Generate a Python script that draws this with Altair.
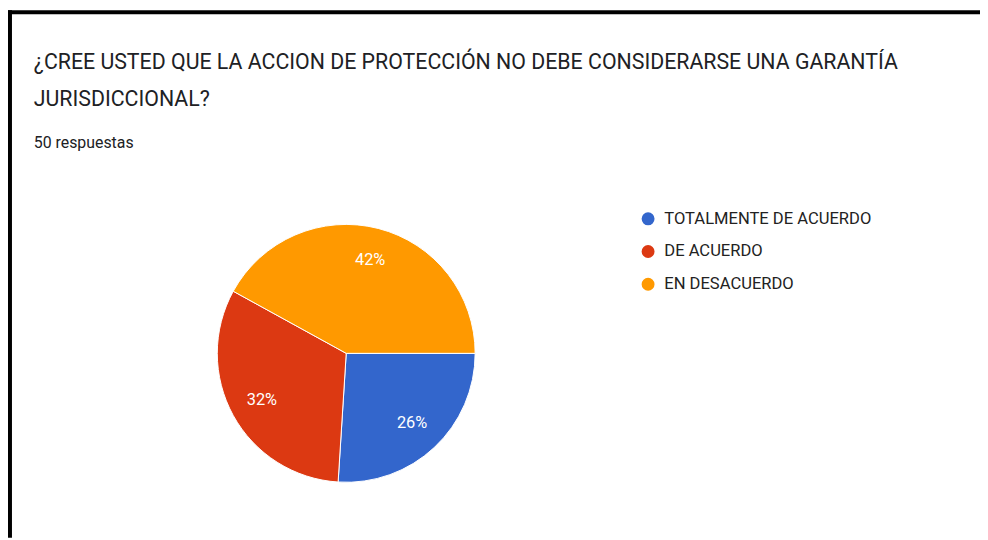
import altair as alt
import pandas as pd

# ---- data ----
categories = ["TOTALMENTE DE ACUERDO", "DE ACUERDO", "EN DESACUERDO"]
counts = [13, 16, 21]
pct_labels = ["26%", "32%", "42%"]
colors = ["#3366CC", "#DC3912", "#FF9900"]
title_lines = ["¿CREE USTED QUE LA ACCION DE PROTECCIÓN NO DEBE CONSIDERARSE UNA GARANTÍA",
               "JURISDICCIONAL?"]
subtitle = "50 respuestas"

df = pd.DataFrame({"cat": categories, "n": counts, "lbl": pct_labels,
                   "ord": list(range(len(categories)))})

W, H = 980, 532
CX, CY, R = 341, 346, 130

theta = alt.Theta("n:Q", stack=True,
                  scale=alt.Scale(range=[3.14159265 / 2, 3.14159265 / 2 + 2 * 3.14159265]))
color = alt.Color("cat:N", sort=categories,
                  scale=alt.Scale(domain=categories, range=colors),
                  legend=alt.Legend(title=None, orient="none", legendX=637, legendY=202,
                                    symbolType="circle", symbolSize=170, symbolStrokeWidth=0,
                                    labelFontSize=16.7, labelFont="Roboto", labelColor="#222222",
                                    labelOffset=8, rowPadding=15, labelLimit=400))

base = alt.Chart(df)

pie = base.mark_arc(outerRadius=R, stroke="white", strokeWidth=1).encode(
    theta=theta, color=color, order=alt.Order("ord:Q"),
    x=alt.value(CX), y=alt.value(CY))

labels = base.mark_text(radius=97, color="white", fontSize=16.5, font="Roboto").encode(
    theta=theta, text="lbl:N", order=alt.Order("ord:Q"),
    x=alt.value(CX), y=alt.value(CY))

one = pd.DataFrame({"a": [0]})

t1 = alt.Chart(pd.DataFrame({"t": [title_lines[0]]})).mark_text(
    align="left", baseline="alphabetic", fontSize=21.5, font="Roboto", color="#202124").encode(
    text="t:N", x=alt.value(26), y=alt.value(59))
t2 = alt.Chart(pd.DataFrame({"t": [title_lines[1]]})).mark_text(
    align="left", baseline="alphabetic", fontSize=21.5, font="Roboto", color="#202124").encode(
    text="t:N", x=alt.value(26), y=alt.value(97))
st = alt.Chart(pd.DataFrame({"t": [subtitle]})).mark_text(
    align="left", baseline="alphabetic", fontSize=16, font="Roboto", color="#202124").encode(
    text="t:N", x=alt.value(26), y=alt.value(139))

top_border = alt.Chart(one).mark_rule(color="black", strokeWidth=4).encode(
    x=alt.value(0), x2=alt.value(W), y=alt.value(2))
left_border = alt.Chart(one).mark_rule(color="black", strokeWidth=4).encode(
    x=alt.value(2), y=alt.value(0), y2=alt.value(H))

chart = alt.layer(pie, labels, t1, t2, st, top_border, left_border).properties(
    width=W, height=H, padding=0, autosize=alt.AutoSizeParams(type="none"),
    background="white"
).configure_view(stroke=None)

chart.save("out.html", embed_options={"renderer": "svg", "actions": False})
